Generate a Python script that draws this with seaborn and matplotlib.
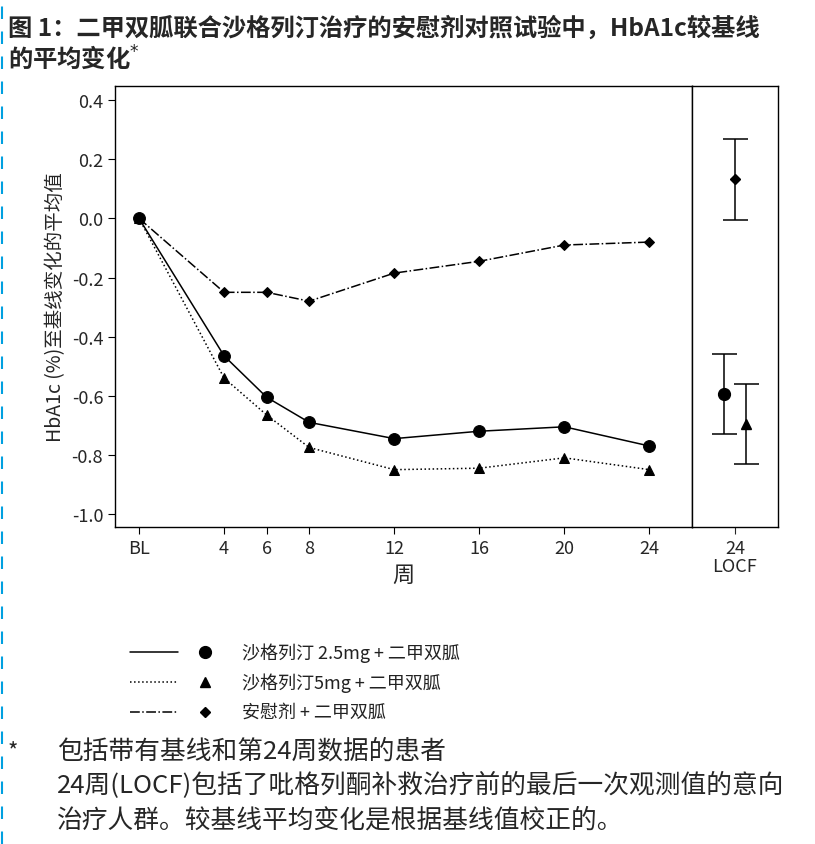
import matplotlib
matplotlib.use("Agg")
import matplotlib.pyplot as plt
import seaborn as sns
import pandas as pd

sns.set_style("white")
plt.rcParams['font.family'] = ['Noto Sans CJK SC', 'DejaVu Sans']

weeks = [0, 4, 6, 8, 12, 16, 20, 24]
week_labels = ["BL", "4", "6", "8", "12", "16", "20", "24"]
saxa_25 = [0, -0.465, -0.605, -0.69, -0.745, -0.72, -0.705, -0.77]
saxa_5 = [0, -0.54, -0.665, -0.775, -0.85, -0.845, -0.81, -0.85]
placebo = [0, -0.25, -0.25, -0.28, -0.185, -0.145, -0.09, -0.08]

locf_mean = [-0.595, -0.695, 0.135]
locf_lo = [-0.73, -0.83, -0.005]
locf_hi = [-0.46, -0.56, 0.27]
locf_pos = [0.37, 0.63, 0.5]

names = ["沙格列汀 2.5mg + 二甲双胍", "沙格列汀5mg + 二甲双胍", "安慰剂 + 二甲双胍"]
styles = ["-", ":", "-."]
markers = ["o", "^", "D"]
msizes = [8.5, 7.5, 5.5]

df = pd.DataFrame({"week": weeks * 3,
                   "value": saxa_25 + saxa_5 + placebo,
                   "group": [n for n in names for _ in weeks]})

fig = plt.figure(figsize=(8.15, 8.45), dpi=100)
ax = fig.add_axes([115/815, 1-528/845, 577/815, 441/845])
ax2 = fig.add_axes([692/815, 1-528/845, 86/815, 441/845], sharey=ax)

for name, ls, mk, ms in zip(names, styles, markers, msizes):
    sub = df[df["group"] == name]
    sns.lineplot(data=sub, x="week", y="value", ax=ax, color="black", linestyle=ls,
                 linewidth=1.1, marker=mk, markersize=ms, markeredgecolor="black", legend=False)

for pos, m, lo, hi, mk, ms in zip(locf_pos, locf_mean, locf_lo, locf_hi, markers, msizes):
    ax2.errorbar([pos], [m], yerr=[[m - lo], [hi - m]], fmt=mk, color="black",
                 markersize=ms, capsize=9, elinewidth=1.1, capthick=1.1)

ax.set_xlim(-1.13, 26)
ax.set_ylim(-1.044, 0.448)
ax.set_xticks(weeks)
ax.set_xticklabels(week_labels, fontsize=13)
ax.set_yticks([0.4, 0.2, 0.0, -0.2, -0.4, -0.6, -0.8, -1.0])
ax.set_yticklabels(["0.4", "0.2", "0.0", "-0.2", "-0.4", "-0.6", "-0.8", "-1.0"], fontsize=13)
ax.set_xlabel("周", fontsize=16)
ax.set_ylabel("HbA1c (%)至基线变化的平均值", fontsize=14)
ax.tick_params(axis="both", direction="out", length=5, color="black", bottom=True, left=True)

ax2.set_xlim(0, 1)
ax2.set_xticks([0.5])
ax2.set_xticklabels(["24\nLOCF"], fontsize=13, linespacing=1.0)
ax2.tick_params(axis="x", direction="out", length=5, bottom=True)
ax2.tick_params(axis="y", left=False, labelleft=False)
ax2.set_xlabel("")
ax2.set_ylabel("")

for a in (ax, ax2):
    for s in a.spines.values():
        s.set_color("black")
        s.set_linewidth(1)

fig.text(8/815, 1-28/845, "图 1：二甲双胍联合沙格列汀治疗的安慰剂对照试验中，HbA1c较基线", fontsize=17.5,
         fontweight="bold", va="center")
fig.text(8/815, 1-58/845, "的平均变化$^{*}$", fontsize=17.5, fontweight="bold", va="center")

# legend
for i, (name, ls, mk, ms) in enumerate(zip(names, styles, markers, msizes)):
    y = 1 - (653 + i * 30) / 845
    fig.add_artist(plt.Line2D([130/815, 178/815], [y, y], color="black", linestyle=ls, linewidth=1.1))
    fig.add_artist(plt.Line2D([205/815], [y], marker=mk, color="black", markersize=ms))
    fig.text(242/815, y, name, fontsize=13, va="center", color="#222222")

fig.text(8/815, 1-752/845, "*", fontsize=16, va="center")
fig.text(57/815, 1-752/845, "包括带有基线和第24周数据的患者", fontsize=18.5, va="center")
fig.text(57/815, 1-786/845, "24周(LOCF)包括了吡格列酮补救治疗前的最后一次观测值的意向", fontsize=18.5, va="center")
fig.text(57/815, 1-820/845, "治疗人群。较基线平均变化是根据基线值校正的。", fontsize=18.5, va="center")

fig.add_artist(plt.Line2D([2/815, 2/815], [0, 1], color="#00a0e0", linestyle=(0, (6, 6)), linewidth=1.5))

fig.savefig("out.png", dpi=100)
